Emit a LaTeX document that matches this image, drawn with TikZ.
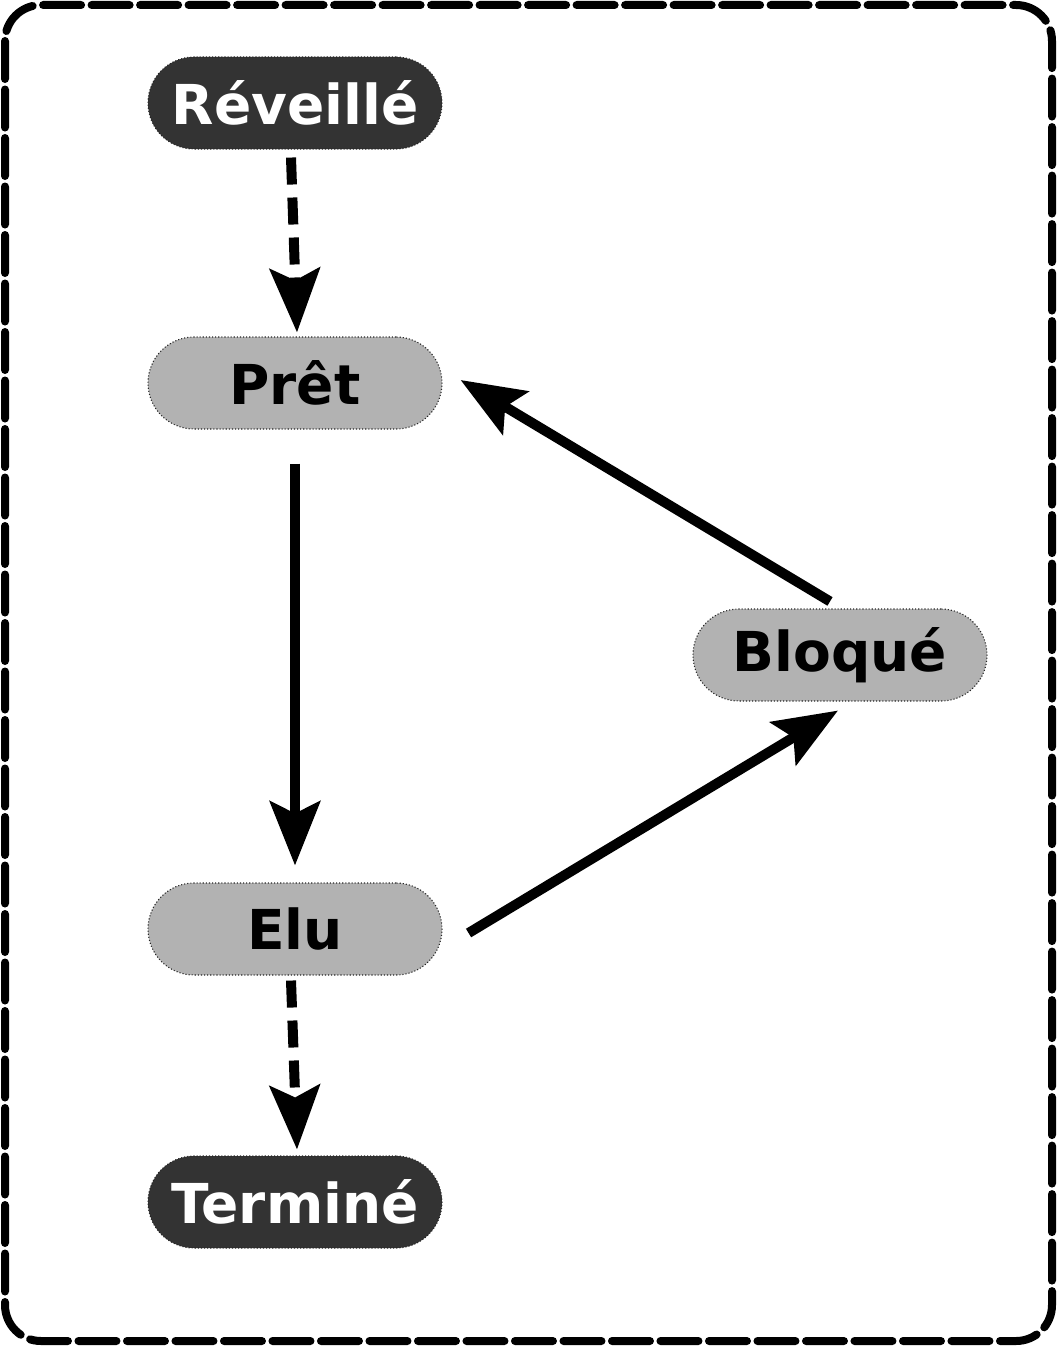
\documentclass[tikz,border=0pt]{standalone}
\usepackage{fontspec}
\setmainfont{DejaVu Sans}
\usetikzlibrary{arrows.meta}
\begin{document}
\begin{tikzpicture}[x=1pt,y=-1pt,
  state/.style={rounded corners=46pt, minimum width=294pt, minimum height=92pt,
    draw=black!85, dotted, line width=1.1pt, inner sep=0pt,
    font=\fontsize{55}{66}\selectfont\bfseries},
  light/.style={state, fill=black!30, text=black},
  dark/.style={state, fill=black!80, text=white},
  conn/.style={line width=10pt, -{Stealth[length=64pt,width=50pt,inset=12pt]}},
  dconn/.style={conn, dash pattern=on 27pt off 13pt}
]
\useasboundingbox (0,0) rectangle (1057,1346);
\draw[line width=8pt, dash pattern=on 38pt off 10.5pt, line cap=round, rounded corners=36pt]
  (5,5) rectangle (1052,1341);

\node[dark]  (rev) at (295,103)  {Réveillé};
\node[light] (pret) at (295,383) {Prêt};
\node[light] (elu) at (295,929)  {Elu};
\node[dark]  (term) at (295,1202) {Terminé};
\node[light] (blo) at (840,655)  {Bloqué};

\draw[dconn] ([xshift=-4pt,yshift=-8pt]rev.south) -- ([xshift=2pt,yshift=4pt]pret.north);
\draw[conn] ([yshift=-34pt]pret.south) -- ([yshift=17pt]elu.north);
\draw[conn] ([xshift=-10pt,yshift=7pt]blo.north) -- ([xshift=18pt,yshift=3pt]pret.east);
\draw[conn] ([xshift=26pt,yshift=-4pt]elu.east) -- ([xshift=-2pt,yshift=-9pt]blo.south);
\draw[dconn] ([xshift=-4pt,yshift=-5pt]elu.south) -- ([xshift=2pt,yshift=6pt]term.north);
\end{tikzpicture}
\end{document}
